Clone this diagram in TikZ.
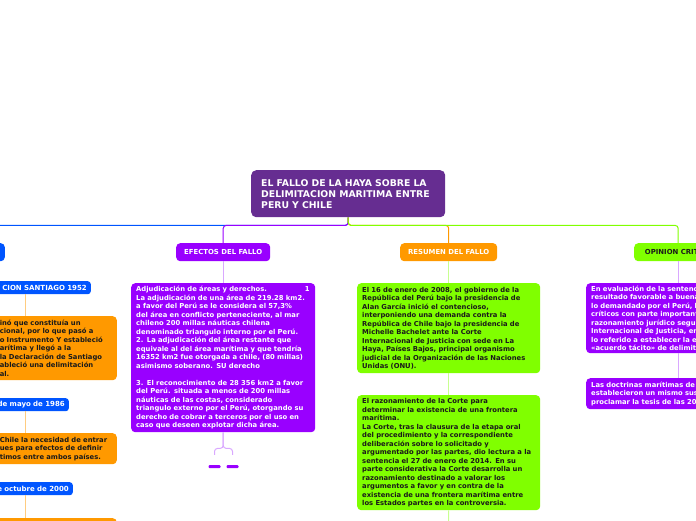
\documentclass[tikz,border=0pt]{standalone}
\usepackage{fontspec}
\setmainfont{DejaVu Sans}
\definecolor{cmain}{HTML}{662D91}
\definecolor{cviol}{HTML}{9900FF}
\definecolor{cblue}{HTML}{0055FF}
\definecolor{corange}{HTML}{FF9900}
\definecolor{cgreen}{HTML}{80FF00}
\definecolor{lviol}{HTML}{D9A8FF}
\definecolor{lorange}{HTML}{FFCC80}
\definecolor{lgreen}{HTML}{C8FF90}
\definecolor{ctext}{HTML}{1A1A1A}
\tikzset{
  mainbox/.style={anchor=north west, fill=cmain, text=white, rounded corners=5pt,
    minimum height=47pt, text width=174pt, inner xsep=10pt, inner ysep=0pt, align=left,
    font=\bfseries\fontsize{9.3}{11}\selectfont},
  lvl/.style={anchor=north west, rounded corners=4pt, minimum height=18pt, inner sep=0pt,
    font=\bfseries\fontsize{6.9}{7.5}\selectfont},
  tag/.style={anchor=north east, fill=cblue, text=white, rounded corners=3pt, minimum height=13pt,
    inner xsep=4pt, inner ysep=0pt, text width=100pt, align=right,
    font=\bfseries\fontsize{7}{7.5}\selectfont},
  textbox/.style={rounded corners=4pt, inner xsep=5pt, inner ysep=0pt, align=left,
    font=\bfseries\fontsize{6.8}{8.5}\selectfont},
  obox/.style={textbox, anchor=north east, fill=corange, text=ctext, text width=113pt, inner xsep=4pt},
  vbox/.style={textbox, anchor=north west, fill=cviol, text=white, text width=174pt},
  gbox/.style={textbox, anchor=north west, fill=cgreen, text=ctext, text width=173pt},
  mainline/.style={line width=1pt, rounded corners=3pt},
  subline/.style={line width=1pt, rounded corners=3pt},
  tiny/.style={fill=cviol, rounded corners=1pt, minimum width=12pt, minimum height=3pt, inner sep=0pt}
}
\begin{document}
\begin{tikzpicture}[x=1pt,y=-1pt]
\useasboundingbox (0,0) rectangle (696,520);
% central
\node[mainbox] (c) at (251,170) {EL FALLO DE LA HAYA SOBRE LA\\DELIMITACION MARITIMA ENTRE\\PERU Y CHILE};
% level 1
\node[lvl, fill=cblue, minimum width=70pt, anchor=north east] (ant) at (5,243) {};
\node[lvl, fill=cviol, text=white, minimum width=94pt] (efe) at (176,243) {EFECTOS DEL FALLO};
\node[lvl, fill=corange, text=white, minimum width=97pt] (res) at (400,243) {RESUMEN DEL FALLO};
\node[lvl, fill=cgreen, text=ctext, minimum width=88pt] (opi) at (634,243) {OPINION CRITICA};
\draw[mainline, cblue] (c.south) -- ++(0,8) -| (ant.north);
\draw[mainline, cviol] (c.south) -- ++(0,8) -| (efe.north);
\draw[mainline, corange] (c.south) -- ++(0,8) -| (res.north);
\draw[mainline, cgreen] (c.south) -- ++(0,8) -| (opi.north);
% left column
\node[tag] (d1) at (91,281) {CION SANTIAGO 1952};
\node[obox, minimum height=64pt] (o1) at (117,316) {in\'o que constitu\'ia un\\cional, por lo que pas\'o a\\o Instrumento Y estableci\'o\\ar\'itima y lleg\'o a la\\la Declaraci\'on de Santiago\\ableci\'o una delimitaci\'on\\al.};
\node[tag] (d2) at (69,398) {de mayo de 1986};
\node[obox, minimum height=31pt] (o2) at (117,433) {Chile la necesidad de entrar\\ues para efectos de definir\\timos entre ambos pa\'ises.};
\node[tag] (d3) at (73,482) {e octubre de 2000};
\node[obox, minimum height=30pt] (o3) at (117,518) {};
\coordinate (lx) at (25,0);
\draw[subline, lorange] (d1.south -| lx) -- (o1.north -| lx);
\draw[subline, lorange] (d2.south -| lx) -- (o2.north -| lx);
\draw[subline, lorange] (d3.south -| lx) -- (o3.north -| lx);
% efectos
\node[vbox, minimum height=149pt] (e1) at (131,283) {Adjudicaci\'on de \'areas y derechos.\hspace{38pt}1\\La adjudicaci\'on de una \'area de 219.28 km2.\\a favor del Per\'u se le considera el 57,3\%\\del \'area en conflicto perteneciente, al mar\\chileno 200 millas n\'auticas chilena\\denominado triangulo interno por el Per\'u.\\2. La adjudicaci\'on del \'area restante que\\equivale al del \'area mar\'itima y que tendr\'ia\\16352 km2 fue otorgada a chile, (80 millas)\\asimismo soberano. SU derecho\\[8.5pt]3. El reconocimiento de 28 356 km2 a favor\\del Per\'u. situada a menos de 200 millas\\n\'auticas de las costas, considerado\\triangulo externo por el Per\'u, otorgando su\\derecho de cobrar a terceros por el uso en\\caso que deseen explotar dicha \'area.};
\draw[subline, lviol] (efe.south) -- (e1.north);
\node[tiny] (t1) at (214.5,466.5) {};
\node[tiny] (t2) at (232.5,466.5) {};
\draw[subline, lviol, shorten >=10pt] (e1.south) -- ++(0,16) -| (t1.north);
\draw[subline, lviol, shorten >=10pt] (e1.south) -- ++(0,16) -| (t2.north);
% resumen
\node[gbox, minimum height=90pt] (g1) at (357,283) {El 16 de enero de 2008, el gobierno de la\\Rep\'ublica del Per\'u bajo la presidencia de\\Alan Garc\'ia inici\'o el contencioso,\\interponiendo una demanda contra la\\Rep\'ublica de Chile bajo la presidencia de\\Michelle Bachelet ante la Corte\\Internacional de Justicia con sede en La\\Haya, Pa\'ises Bajos, principal organismo\\judicial de la Organizaci\'on de las Naciones\\Unidas (ONU).};
\node[gbox, minimum height=115pt] (g2) at (357,395) {El razonamiento de la Corte para\\determinar la existencia de una frontera\\mar\'itima.\\La Corte, tras la clausura de la etapa oral\\del procedimiento y la correspondiente\\deliberaci\'on sobre lo solicitado y\\argumentado por las partes, dio lectura a la\\sentencia el 27 de enero de 2014. En su\\parte considerativa la Corte desarrolla un\\razonamiento destinado a valorar los\\argumentos a favor y en contra de la\\existencia de una frontera mar\'itima entre\\los Estados partes en la controversia.};
\coordinate (gend) at (448.5,526);
\draw[subline, lgreen] (res.south) -- (g1.north);
\draw[subline, lgreen] (g1.south) -- (g2.north);
\draw[subline, lgreen] (g2.south) -- (gend);
% opinion
\node[vbox, minimum height=70pt] (p1) at (586,283) {En evaluaci\'on de la sentencia\\resultado favorable a buena\\lo demandado por el Per\'u, los\\cr\'iticos con parte importante\\razonamiento jur\'idico seguido\\Internacional de Justicia, en\\lo referido a establecer la existencia\\\guillemotleft acuerdo t\'acito\guillemotright{} de delimitaci\'on};
\node[vbox, minimum height=31pt] (p2) at (586,378) {Las doctrinas mar\'itimas de\\establecieron un mismo sustento\\proclamar la tesis de las 200};
\draw[subline, lviol] (opi.south) -- (p1.north);
\draw[subline, lviol] (p1.south) -- (p2.north);
\end{tikzpicture}
\end{document}
